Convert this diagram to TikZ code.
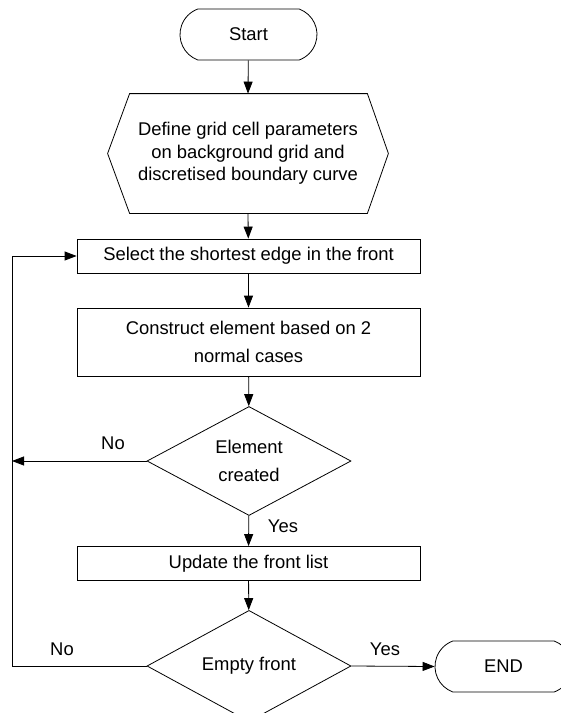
\documentclass[tikz,border=0pt]{standalone}
\usepackage{fontspec}
\setmainfont{Liberation Sans}
\usetikzlibrary{shapes.geometric,shapes.misc,arrows.meta}
\tikzset{
  base/.style={font=\fontsize{18.4}{22.5}\selectfont, align=center, inner sep=0pt},
  term/.style={base, draw, rounded rectangle, rounded rectangle arc length=140, minimum width=137pt, minimum height=51pt},
  procbox/.style={base, draw, rectangle, minimum width=343pt},
  decision/.style={base, draw, diamond, minimum width=204pt, minimum height=101pt},
  arr/.style={-{Triangle[length=12pt,width=9pt]}},
  lbl/.style={font=\fontsize{18.4}{22}\selectfont, inner sep=0pt}
}
\begin{document}
\begin{tikzpicture}[x=1pt,y=-1pt,line width=0.8pt]
\useasboundingbox (0,0) rectangle (561,713);
\clip (0,0) rectangle (561,713);
\node[term] (start) at (248.5,34.5) {Start};
\node[base, minimum width=280pt, minimum height=119pt] (hex) at (248,153.5) {Define grid cell parameters\\on background grid and\\discretised boundary curve};
\draw (hex.west) -- ([xshift=22pt]hex.north west) -- ([xshift=-21pt]hex.north east) -- (hex.east) -- ([xshift=-21pt]hex.south east) -- ([xshift=22pt]hex.south west) -- cycle;
\node[procbox, minimum height=34pt] (select) at (248.5,256) {Select the shortest edge in the front};
\node[procbox, minimum height=68pt, font=\fontsize{18.4}{28}\selectfont] (construct) at (248.5,342) {Construct element based on 2\\normal cases};
\node[decision, font=\fontsize{18.4}{28}\selectfont] (elem) at (249,461) {Element\\created};
\node[procbox, minimum height=34pt] (update) at (248.5,563.5) {Update the front list};
\node[decision] (empty) at (249,666) {Empty front};
\node[term] (end) at (503.5,666.5) {END};
\coordinate (noend) at (12,461);
\coordinate (loopb) at (12,666);
\draw[arr] (start) -- (hex.north);
\draw[arr] (hex.south) -- (select);
\draw[arr] (select) -- (construct);
\draw[arr] (construct) -- (elem);
\draw[arr] (elem) -- (update);
\draw[arr] (update) -- (empty);
\draw[arr] (elem.west) -- (noend);
\draw[arr] (empty.west) -- (loopb) |- (select.west);
\draw[arr] (empty.east) -- (end.west);
\node[lbl] (no1) at (113,443) {No};
\node[lbl] (no2) at (62,649) {No};
\node[lbl] (yes1) at (283,526) {Yes};
\node[lbl] (yes2) at (385,649) {Yes};
\end{tikzpicture}
\end{document}
